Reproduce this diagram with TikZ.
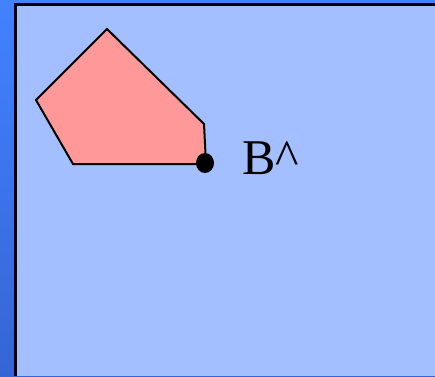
\documentclass[tikz,border=0pt]{standalone}
\usepackage{fontspec}
\setmainfont{Liberation Serif}
\begin{document}
\begin{tikzpicture}[x=1pt,y=1pt,
  poly/.style={draw=black,line width=2pt,fill=pinkfill,line join=miter},
  lbl/.style={font=\fontsize{50}{50}\selectfont,inner sep=0pt,anchor=base west}]
\definecolor{pinkfill}{HTML}{FF9999}
\definecolor{panel}{HTML}{A3BFFF}
\definecolor{stripTop}{HTML}{4282FF}
\definecolor{stripBot}{HTML}{3565D5}
\useasboundingbox (0,0) rectangle (435,-376);
% outer blue strips
\shade[top color=stripTop,bottom color=stripBot] (0,0) rectangle (435,-376);
% black frame line
\fill[black] (14,-3) rectangle (435,-376);
% panel
\fill[panel] (17,-6) rectangle (435,-376);
% pentagon
\draw[poly] (107,-29) coordinate (p1) -- (204,-124) coordinate (p2) -- (206,-164) coordinate (p3) -- (73,-164) coordinate (p4) -- (36,-100) coordinate (p5) -- cycle;
\fill[black] (205,-163) ellipse (9pt and 10pt);
\node[lbl] (b) at (242,-174) {B\^{}};
\end{tikzpicture}
\end{document}
